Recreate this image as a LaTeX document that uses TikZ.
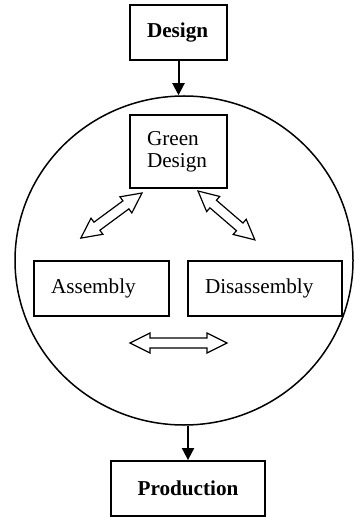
\documentclass[tikz,border=0pt]{standalone}
\usepackage{fontspec}
\setmainfont{Liberation Serif}
\usetikzlibrary{arrows.meta,shapes.geometric}
\newcommand\hollowdbl[3]{% start coordinate, canvas angle, length (px)
  \draw[hollow, shift={(#1)}, rotate=#2]
    (0,0) -- (20,10) -- (20,5) -- (#3-20,5) -- (#3-20,10) -- (#3,0)
    -- (#3-20,-10) -- (#3-20,-5) -- (20,-5) -- (20,-10) -- cycle;}
\begin{document}
\begin{tikzpicture}[x=0.5pt,y=-0.5pt,
  box/.style={draw, line width=0.9pt, inner xsep=8.5pt, inner ysep=0pt,
    minimum height=27.5pt, font=\fontsize{10.6}{11.2}\selectfont},
  conn/.style={line width=1pt, -{Triangle[length=6pt,width=6pt]}},
  hollow/.style={draw, line width=0.6pt, line join=miter, fill=white},
  ring/.style={draw, ellipse, line width=0.75pt, inner sep=0pt}]
\useasboundingbox (0,0) rectangle (354,517);
\node[ring, minimum width=169pt, minimum height=164.5pt] (circ) at (184,260.5) {};
\node[box, text width=31.5pt, align=left] (design) at (178.5,32.5) {\textbf{Design}};
\node[box, text width=31.5pt, align=left, minimum height=36.5pt] (green) at (178.5,151.5) {Green\\Design};
\node[box, text width=50.5pt, align=left] (asm) at (101.5,288.5) {Assembly};
\node[box, text width=60pt, align=left] (dis) at (265,288.5) {Disassembly};
\node[box, text width=60pt, align=center] (prod) at (188,488.5) {\textbf{Production}};
\coordinate (top) at (circ.north -| design.south);
\coordinate (bot) at (circ.south -| prod.north);
\draw[conn] (design.south) -- (top);
\draw[conn] (bot) -- (prod.north);
\coordinate (la) at (142,193);
\coordinate (ra) at (198,191);
\coordinate (ha) at (130,343);
\hollowdbl{la}{-143.6}{76}
\hollowdbl{ra}{-40.7}{75}
\hollowdbl{ha}{0}{97}
\end{tikzpicture}
\end{document}
